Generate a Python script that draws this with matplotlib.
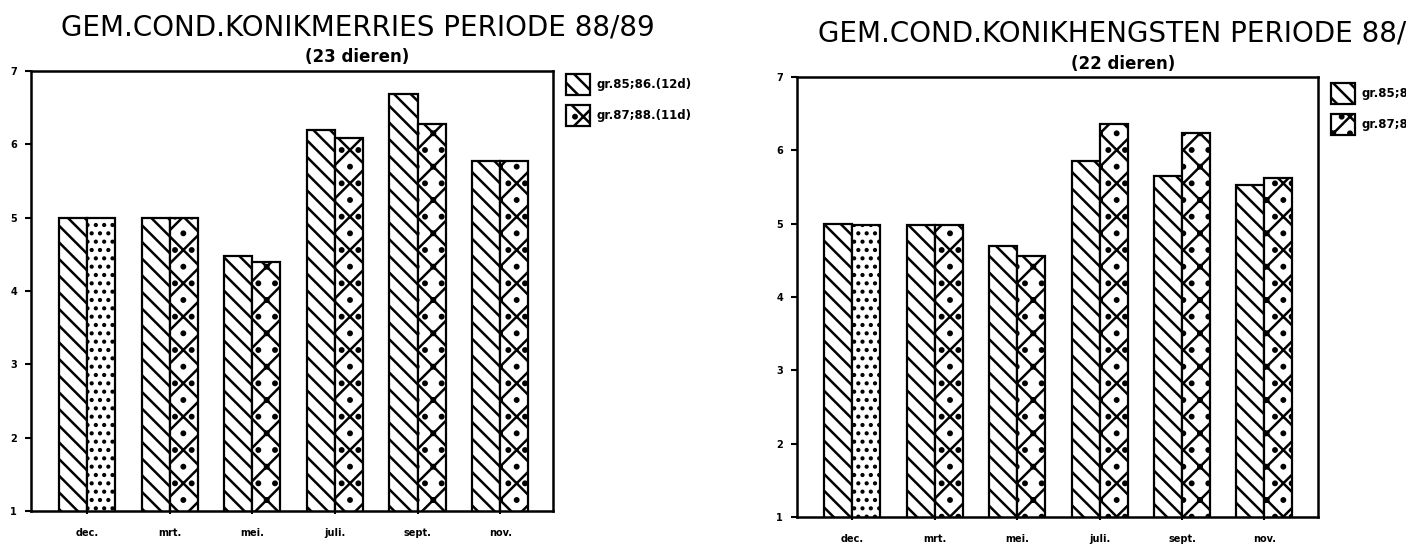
import numpy as np
import matplotlib
matplotlib.use("Agg")
import matplotlib.pyplot as plt
from matplotlib.patches import Patch

# data
months = ["dec.", "mrt.", "mei.", "juli.", "sept.", "nov."]

merries_gr8586 = [5.0, 5.0, 4.48, 6.20, 6.68, 5.77]
merries_gr8788 = [5.0, 5.0, 4.40, 6.09, 6.28, 5.77]

hengsten_gr8586 = [5.0, 4.98, 4.70, 5.86, 5.65, 5.53]
hengsten_gr8788 = [4.98, 4.98, 4.56, 6.36, 6.24, 5.62]

merries_labels = ["gr.85;86.(12d)", "gr.87;88.(11d)"]
hengsten_labels = ["gr.85;86.(11d)", "gr.87;88.(11d)"]

plt.rcParams["hatch.linewidth"] = 1.8
plt.rcParams["font.family"] = "DejaVu Sans"

W, H = 1406, 547
fig = plt.figure(figsize=(W / 100, H / 100), dpi=100)


def px_axes(x0, y0, x1, y1):
    return fig.add_axes([x0 / W, 1 - y1 / H, (x1 - x0) / W, (y1 - y0) / H])


def draw(ax, a, b, xlim):
    x = np.arange(len(months))
    w = 0.34
    ax.bar(x - w / 2, a, w, bottom=0, color="white", edgecolor="black",
           linewidth=1.6, hatch="\\\\")
    hatches = [".."] + ["x."] * (len(months) - 1)
    for xi, v, h in zip(x, b, hatches):
        ax.bar(xi + w / 2, v, w, color="white", edgecolor="black",
               linewidth=1.6, hatch=h)
    ax.set_ylim(1, 7)
    ax.set_xlim(*xlim)
    ax.set_yticks(range(1, 8))
    ax.set_xticks(x)
    ax.set_xticklabels(months, fontsize=7, fontweight="bold")
    ax.tick_params(axis="y", labelsize=7, width=1.5, length=4, pad=6)
    ax.tick_params(axis="x", width=1.5, length=5, direction="inout", pad=10)
    for lab in ax.get_yticklabels():
        lab.set_fontweight("bold")
    for s in ax.spines.values():
        s.set_linewidth(1.8)


def legend(ax, labels, x, y):
    handles = [Patch(facecolor="white", edgecolor="black", hatch="\\\\", linewidth=1.6),
               Patch(facecolor="white", edgecolor="black", hatch="x.", linewidth=1.6)]
    fig.legend(handles, labels, loc="upper left", bbox_to_anchor=(x / W, 1 - y / H),
               frameon=False, prop={"size": 8.5, "weight": "bold"},
               handlelength=2.0, handleheight=2.3, handletextpad=0.6,
               labelspacing=0.9, borderpad=0, borderaxespad=0)


ax1 = px_axes(31, 71, 553, 511)
draw(ax1, merries_gr8586, merries_gr8788, (-0.68, 5.64))
legend(ax1, merries_labels, 566, 74)
fig.text(358 / W, 1 - 27 / H, "GEM.COND.KONIKMERRIES PERIODE 88/89",
         ha="center", va="center", fontsize=20)
fig.text(357 / W, 1 - 57 / H, "(23 dieren)", ha="center", va="center",
         fontsize=12, fontweight="bold")

ax2 = px_axes(797, 77, 1318, 517)
draw(ax2, hengsten_gr8586, hengsten_gr8788, (-0.67, 5.65))
legend(ax2, hengsten_labels, 1331, 83)
fig.text(818 / W, 1 - 33 / H, "GEM.COND.KONIKHENGSTEN PERIODE 88/89",
         ha="left", va="center", fontsize=20)
fig.text(1123 / W, 1 - 64 / H, "(22 dieren)", ha="center", va="center",
         fontsize=12, fontweight="bold")

fig.savefig("out.png", dpi=100)
